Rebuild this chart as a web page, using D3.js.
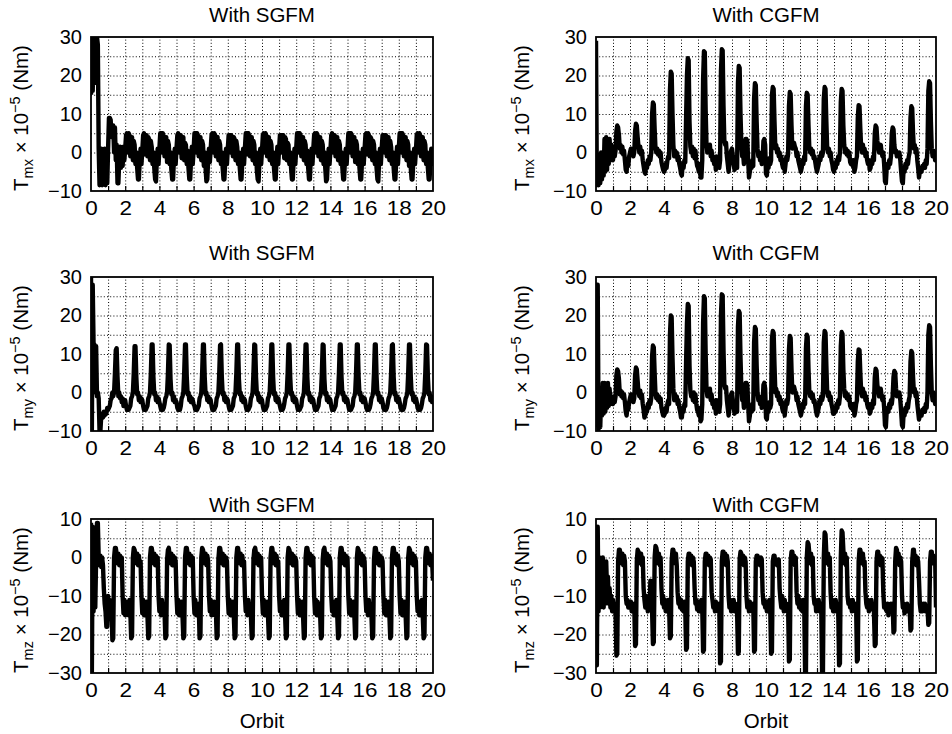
<!DOCTYPE html>
<html>
<head>
<meta charset="utf-8">
<script src="https://d3js.org/d3.v7.min.js"></script>
<style>
  body { margin: 0; background: #fff; }
  text { font-family: "Liberation Sans", Arial, Helvetica, sans-serif; fill: #000; }
</style>
</head>
<body>
<script>
// curves: one row per orbit, 20 samples 0.05 orbit apart,
// the last row holds the value at orbit 20
var step = 0.05;

var xTickValues = [0, 2, 4, 6, 8, 10, 12, 14, 16, 18, 20];
var yTicksXY = [-10, 0, 10, 20, 30];
var yTicksZ = [-30, -20, -10, 0, 10];
var titles = ["With SGFM", "With CGFM"];
var xLabel = "Orbit";

var tmxSgfm = [
  [15, 30, 16, 30, 18, 30, 20, 30, 28, 1, -8.5, -8, 1, -8.5, 0, -8, 1, -8.5, 0.5, -8],
  [1, 9, 9, 8.5, 4, 7, 7, 0, 6.5, -2, 2, -8, -8, -2, 1.5, -4, 1, -3.5, 1.5, -2],
  [1, 4.5, 5, 0, 5, 4.5, -1, 4, 4, -2, 3, 2, -3, 0, -4, -7, -7, -2, 1, -3],
  [0.5, 4.5, 5, -0.5, 4.5, 4.5, -1, 4, 3.5, -2, 3, 1.5, -3, 0, -4, -7, -7.5, -2, 1, -3],
  [1, 5, 5, 0, 5, 4, -1, 4, 4, -2.5, 3, 2, -3, 0, -4.5, -7, -7, -1.5, 1, -3],
  [1, 4.5, 5, 0, 4.5, 4.5, -1.5, 4, 4, -2, 2.5, 2, -3, 0.5, -4, -7, -7, -2, 1.5, -3],
  [0.5, 5, 5, 0, 5, 4.5, -1, 4, 4, -2, 3, 2, -3.5, 0, -4, -7.5, -7, -2, 1, -2.5],
  [1, 4.5, 5, 0, 5, 4.5, -1, 3.5, 4, -2, 3, 2, -3, 0, -4, -7, -7, -2, 1, -3],
  [1, 4.5, 4.5, 0, 4.5, 4, -1, 4, 3.5, -2, 3, 1.5, -3, 0, -4, -7, -7, -2, 1, -3],
  [1, 5, 5, -0.5, 5, 4.5, -1, 4, 4, -2, 3, 2, -3, 0, -4.5, -7, -7.5, -2, 1, -3],
  [0.5, 4.5, 5, 0, 5, 4.5, -1, 4, 4, -2, 3, 2, -3, 0, -4, -7, -7, -2, 1.5, -3],
  [1, 4.5, 4.5, 0, 4.5, 4.5, -1.5, 4, 3.5, -2, 2.5, 2, -3, 0, -4, -7, -7, -2, 1, -3],
  [1, 5, 5, 0, 5, 4.5, -1, 4, 4, -2, 3, 2, -3, 0.5, -4, -7, -7, -1.5, 1, -3],
  [1, 4.5, 5, 0, 5, 4.5, -1, 4, 4, -2, 3, 2, -3, 0, -4, -7.5, -7, -2, 1, -3],
  [0.5, 4.5, 5, 0, 4.5, 4.5, -1, 4, 4, -2, 3, 2, -3, 0, -4, -7, -7, -2, 1, -3],
  [1, 5, 5, 0, 5, 4.5, -1, 4, 4, -2.5, 3, 2, -3, 0, -4, -7, -7, -2, 1, -3],
  [1, 4.5, 5, -0.5, 5, 4.5, -1, 4, 3.5, -2, 3, 2, -3, 0, -4, -7, -7.5, -2, 1, -3],
  [1, 4.5, 4.5, 0, 4.5, 4.5, -1, 4, 4, -2, 3, 1.5, -3, 0, -4, -7, -7, -2, 1.5, -3],
  [1, 5, 5, 0, 5, 4.5, -1, 4, 4, -2, 3, 2, -3.5, 0, -4, -7, -7, -2, 1, -3],
  [0.5, 4.5, 5, 0, 5, 4.5, -1, 4, 4, -2, 3, 2, -3, 0, -4, -7, -7, -2, 1, -3],
  [-1]
];

var tmxCgfm = [
  [29, -8.5, -1, -8.5, -0.5, -8, 0, -7, -1, -6, 3.5, -5, 4, -4.5, 3.5, -3, 3.5, -2, 2, -1],
  [-2, 1, -1, 0.5, 5.5, 7, 6.5, 4.5, 1, 2, 0, 1.5, -0.5, 0.5, -2, -4.5, -5, -2, -3.5, -1],
  [0, 1, -0.5, 0.5, -1, 0, 5.5, 7.5, 7, 4, 1.5, 0, 1.5, -0.5, 0.5, -2, -3.5, -5, -5.5, -3],
  [-4, -2, -3, -1, -2, 0, 10, 13, 12.5, 6, 1, 0, 1, -0.5, 0.5, -1, 0, -2.5, -3.5, -4.5],
  [-5, -4.5, -3, -4, -2, -1, -1.5, 16, 21, 20.5, 10, 2, -1, 0.5, -1, 0, -2, -1, -3, -4],
  [-5.5, -6, -3, -4, -2, -2.5, 9, 20, 24.5, 24, 8, 1.5, 0, 1.5, -1, 1, -1.5, 0.5, -2, -3.5],
  [-4, -5, -3, -6.5, -6.5, -2, 19, 26.3, 26, 11, 2, 0, 1.5, 0, 2, -1, 0.5, -2, -1, -3],
  [-2, -4.5, -1, -3, -1.5, -4, -2, 21, 26.8, 26.5, 12, 3, 2, 2.5, -1, -3, -5, -3, -1, 0.5],
  [1, -1, -3, -4.5, -3, -2, -4, 18, 22.5, 22, 10, 2, -1, 0, -3, -1, 3.5, 3.5, 3, -2],
  [-6.5, -5, -3, -4, -2, -3.5, 14, 18, 17.5, 8, 1, -1, 0, -2, -1, -3, -2, 3, 3.5, 2],
  [-5.5, -6, -3, -4, -1.5, -3, -2, 15, 17, 16.5, 8, 1, 2, 0, 1, -1, 0, -2, -1, -3],
  [-4, -2, -5, -3, -1, -2, -0.5, 12, 15.7, 15.2, 7, 1, 1.5, 2.5, 1.5, 1, -1, 0, -2, -3],
  [-4, -5, -4, -2, -3, -1, -2, 12, 15.5, 15, 7, 1, 0, 1, -0.5, 0.5, -1.5, -1, -2.5, -4],
  [-5, -4, -3, -1, -2, 0, -1, 0, 14, 17, 16.5, 8, 1, 0, 1, -1, 0, -2, -3, -4.5],
  [-5, -3.5, -4, -2, -3, -1, -2, 0, 13, 16.5, 16, 7, 2, 0, 1, -0.5, 0.5, -1, 0, -2.5],
  [-3, -2, -3.5, -2, -5, -4, -2, -1, 9, 12.3, 12, 6, 1, 0, 2, 0, 1, -1, 0, -2],
  [-3, -2, -4.5, -4, -2, -3, -1, -2, 5, 7, 6.5, 3, 1.5, 0, 1, 2, 0, -1, 0, -3],
  [-7.5, -8, -4, -3, -4, -2, -3, -1, 5, 6.5, 6, 2, 0, 0.5, -1, 0, -0.5, 0, -2, -5],
  [-7.5, -8, -4, -5, -3, -4, -2, -3, -1, 0, 9, 12, 11.5, 5, 1, 2, 0, 1, -2, -4],
  [-6.5, -5, -4, -5, -3.5, -4, -3, -4, -2, -3, 1, 16, 18.5, 18, 8, 1, -1, 0.5, 0, -2],
  [0]
];

var tmySgfm = [
  [30, -10, 28, 12.5, 12.5, 0, 12, -1, 0, -1.5, -10, -10, -6, -5.5, -6.5, -5, -6, -5, -5.5, -4],
  [-4.5, -4, -3.5, -2, -1.5, 0, -1, 0, 5, 11, 11.5, 4, -1, 0, -1.5, -1, -2.5, -1.5, -3.5, -2],
  [-2, -3.5, -4.5, -4, -4.5, -4, -3.5, -1.5, -1, 0, 5, 12, 12, 4, -0.5, 0, -2, -1, -2.5, -1.5],
  [-2, -3.5, -4.5, -4, -4.5, -4, -3.5, -1.5, -1, 0, 5, 12.5, 12.5, 4, -0.5, 0, -2, -1, -2.5, -1.5],
  [-2.5, -3.5, -4.5, -4, -4.5, -4, -3, -1.5, -1, 0, 5, 12.5, 12.3, 3.5, -0.5, 0, -2, -1, -2.5, -2],
  [-2.5, -4, -4.5, -4, -4.5, -3.5, -1.5, -1, 0, 5, 12.5, 12.5, 4, -0.5, 0, -2, -1, -2.5, -1.5, -2],
  [-3, -3.5, -4.5, -4, -4.5, -4, -3.5, -1.5, -1, 0, 5, 12.5, 12.5, 4, -0.5, 0, -2, -1, -2.5, -1.5],
  [-2, -3.5, -4.5, -4, -4.5, -4, -3.5, -1.5, -1, 0, 5, 12.3, 12.5, 4, -0.5, 0, -2, -1, -2.5, -1.5],
  [-2, -3.5, -4.5, -4, -4.5, -4, -3.5, -1.5, -1, 0, 5, 12.5, 12.5, 3.5, -0.5, 0, -2, -1, -2.5, -1.5],
  [-2, -3.5, -4.5, -4, -4.5, -4, -3.5, -1.5, -1, 0, 5, 12.5, 12.3, 4, -0.5, 0, -2, -1, -2.5, -1.5],
  [-2, -3.5, -4.5, -4, -4.5, -4, -3.5, -1.5, -1, 0, 5, 12.5, 12.5, 4, -0.5, 0, -2, -1, -2.5, -1.5],
  [-2.5, -3.5, -4.5, -4, -4.5, -4, -3, -1.5, -1, 0, 5, 12.5, 12.5, 4, -0.5, 0, -2, -1, -2.5, -1.5],
  [-2, -3.5, -4.5, -4, -4.5, -4, -3.5, -1.5, -1, 0, 5, 12.5, 12.5, 4, -0.5, 0, -2, -1, -2.5, -1.5],
  [-2, -3.5, -4.5, -4, -4.5, -4, -3.5, -1.5, -1, 0, 5, 12.5, 12.3, 3.5, -0.5, 0, -2, -1, -2.5, -1.5],
  [-2, -3.5, -4.5, -4, -4.5, -4, -3.5, -1.5, -1, 0, 5, 12.5, 12.5, 4, -0.5, 0, -2, -1, -2.5, -1.5],
  [-2, -3.5, -4.5, -4, -4.5, -4, -3.5, -1.5, -1, 0, 5, 12.5, 12.5, 4, -0.5, 0, -2, -1, -2.5, -1.5],
  [-1.5, -2.5, -4, -4.5, -4, -4.5, -4, -3, -1.5, -1, 0, 5, 12.5, 12.5, 4, -0.5, 0, -2, -1, -2.5],
  [-1.5, -2.5, -4, -4.5, -4, -4.5, -4, -3, -1.5, -1, 0, 5, 12.3, 12.5, 4, -0.5, 0, -2, -1, -2.5],
  [-1.5, -2.5, -4, -4.5, -4, -4.5, -4, -3, -1.5, -1, 0, 5, 12.5, 12.5, 4, -0.5, 0, -2, -1, -2.5],
  [-1.5, -2.5, -4, -4.5, -4, -4.5, -4, -3, -1.5, -1, 0, 5, 12.5, 12.3, 4, -0.5, 0, -2, -1, -2.5],
  [-2.5]
];

var tmyCgfm = [
  [-9, 28, 28, -9.5, -2, -9, -1, -6, 2.5, -5.5, 2.5, -5, 2, -4, 2.5, -3.5, 1, -3, -1, -2.5],
  [-3, -1, -2.5, -1, 4.5, 6, 5.5, 3.5, -0.5, 0.5, -1, 0, -1.5, -0.5, -2.5, -5, -6, -3.5, -4.5, -2.5],
  [-1.5, -0.5, -2, -1, -2.5, -1.5, 4.5, 6.5, 6, 3, 0, -1, 0.5, -1.5, -0.5, -3, -4.5, -6.5, -6, -4],
  [-5, -3, -4, -2, -3, -1.5, 9.5, 12.2, 11.7, 5, -0.5, -1.5, -0.5, -2, -1, -2.5, -1.5, -4, -5, -6],
  [-6, -5.5, -4, -5, -3, -2, -3, 15, 20, 19.5, 9, 1, -2, -0.5, -2, -1, -3, -2, -4, -5],
  [-6.5, -6.5, -4, -5, -3, -3.5, 8, 18, 23, 22.5, 7, 0.5, -1, 0, -2, 0, -2.5, -0.5, -3, -4.5],
  [-5, -6, -4, -7.5, -7, -3, 18, 25, 24.5, 10, 1, -1, 0.5, -1, 1, -2, -0.5, -3, -2, -4],
  [-3, -5.5, -2, -4, -2.5, -5, -3, 20, 25.5, 25.2, 11, 2, 1, 1.5, -2, -4, -6, -4, -2, -0.5],
  [0, -2, -4, -5.5, -4, -3, -5, 17, 21.2, 20.7, 9, 1, -2, -1, -4, -2, 2.5, 2.5, 2, -3],
  [-7.5, -6, -4, -5, -3, -4.5, 13, 17, 16.5, 7, 0, -2, -1, -3, -2, -4, -3, 2, 2.5, 1],
  [-6.5, -7, -4, -5, -2.5, -4, -3, 14, 16, 15.5, 7, 0, 1, -1, 0, -2, -1, -3, -2, -4],
  [-5, -3, -6, -4, -2, -3, -1.5, 11, 14.7, 14.2, 6, 0, 0.5, 1.5, 0.5, 0, -2, -1, -3, -4],
  [-5, -6, -5, -3, -4, -2, -3, 11.5, 15, 14.5, 6, 0, -1, 0, -1.5, -0.5, -2.5, -2, -3.5, -5],
  [-6, -5, -4, -2, -3, -1, -2, -1, 13, 16, 15.5, 7, 0, -1, 0, -2, -1, -3, -4, -5.5],
  [-5.5, -4.5, -5, -3, -4, -2, -3, -1, 12, 15.7, 15.2, 6, 1, -1, 0, -1.5, -0.5, -2, -1, -3.5],
  [-4, -3, -4.5, -3, -6, -5, -3, -2, 8, 11.2, 11, 5, 0, -1, 1, -1, 0, -2, -1, -3],
  [-4, -3, -5.5, -5, -3, -4, -2, -3, 4, 6.2, 5.7, 2, 0.5, -1, 0, 1, -1, -2, -1, -4],
  [-8.5, -9, -5, -4, -5, -3, -4, -2, -3, -1, 4, 5.6, 5.2, 1, -1, 0, -0.5, 0, -2, -5],
  [-8.5, -9, -5, -6, -4, -5, -3, -4, -2, -1, 8, 10.8, 10.3, 4, 0, 1, -1, 0, -3, -5],
  [-7, -6, -5, -6, -4.5, -5, -4, -5, -3, -4, 0, 15, 17.5, 17, 7, 0, -2, 0, -1, -3],
  [-1]
];

var tmzSgfm = [
  [9, -30, 8, -14, -1, -13, 0, 9, 9, 0, -2, 0.5, -2.5, 0, -2, -8, -12, -14, -18, -18],
  [-10, -13, -11, -16, -13, -21.5, -21, 0, 2.5, 2.5, 1, -1.5, 1, -2, 0.5, -2, 0, -10, -14.5, -11],
  [-15, -11.5, -14, -12, -15, -11, -14, -21, -20.5, 0, 2.5, 2, 0.5, -1.5, 1, -2, 0.5, -2, -1, -10],
  [-14.5, -11, -15, -12, -14, -11.5, -15, -21, -20.5, 0, 2.5, 2.5, 1, -1.5, 1, -2, 0.5, -2, 0, -10],
  [-14, -11.5, -15, -11, -14.5, -12, -14, -21, -20.5, -0.5, 2, 2.5, 0.5, -1.5, 1, -2, 0.5, -2, 0, -1],
  [-10, -14.5, -11, -15, -12, -14, -11.5, -15, -21, -20.5, 0, 2.5, 2.5, 1, -1.5, 1, -2, 0.5, -2, 0],
  [-10, -14.5, -11, -15, -12, -14, -12, -21, -20.5, 0, 2.5, 2, 0.5, -1.5, 1, -2, 0.5, -1, -10, -14],
  [-11, -15, -12, -14.5, -11.5, -15, -13, -21, -20.5, -0.5, 2.5, 2.5, 1, -1.5, 1, -2, 0.5, -2, 0, -1],
  [-10, -14.5, -11, -15, -12, -14, -11.5, -15, -21, -20.5, 0, 2.5, 2.5, 0.5, -1.5, 1, -2, 0.5, -2, -1],
  [-10, -14, -11.5, -15, -11, -14.5, -12, -15, -21, -20.5, -0.5, 2, 2.5, 1, -1.5, 1, -2, 0.5, -2, 0],
  [-10, -14.5, -11, -15, -12, -14, -11.5, -15, -21, -20.5, 0, 2.5, 2.5, 0.5, -1.5, 1, -2, 0.5, -2, -1],
  [-10, -14, -11.5, -15, -12, -14.5, -11, -15, -21, -20.5, 0, 2.5, 2, 1, -1.5, 1, -2, 0.5, -2, 0],
  [-1, -10, -14.5, -11, -15, -12, -14, -11.5, -15, -21, -20.5, 0, 2.5, 2.5, 1, -1.5, 1, -2, 0.5, -1],
  [0, -10, -14.5, -11, -15, -11.5, -14, -12, -15, -21, -20.5, -0.5, 2, 2.5, 0.5, -1.5, 1, -2, 0.5, 0],
  [-1, -10, -14, -11.5, -15, -12, -14.5, -11, -15, -21, -20.5, 0, 2.5, 2.5, 1, -1.5, 1, -2, 0.5, -1],
  [0, -10, -14.5, -11, -15, -12, -14, -11.5, -15, -21, -20.5, 0, 2.5, 2, 0.5, -1.5, 1, -2, 0.5, 0],
  [-1, -10, -14, -11.5, -15, -11, -14.5, -12, -15, -21, -20.5, -0.5, 2.5, 2.5, 1, -1.5, 1, -2, 0.5, -1],
  [0, -1, -10, -14.5, -11, -15, -12, -14, -11.5, -15, -21, -20.5, 0, 2.5, 2.5, 1, -1.5, 1, -2, 0.5],
  [-1, -10, -14.5, -11, -15, -12, -14, -11.5, -15, -21, -20.5, 0, 2.5, 2, 0.5, -1.5, 1, -2, 0.5, 0],
  [-1, -10, -14, -11.5, -15, -12, -14.5, -11, -15, -21, -20.5, 0, 2.5, 2.5, 1, -1.5, 1, -2, 0.5, -1],
  [-6]
];

var tmzCgfm = [
  [8, -28, 8, -14, 0, -13, -1, -10, 0, -13, -3, -12, -1, -9, -5, -12, -8, -13, -10, -14],
  [-11, -14, -12, -14, -25.5, -25, -1, 2, 2, 0.5, -1.5, 1, -2, 0.5, -1, -10, -12, -11, -13, -12],
  [-13, -11.5, -14, -12, -13, -12, -23, -22.5, -1, 2, 1.5, 0, -1.5, 1, -2, 0, -8, -11, -13, -10],
  [-12, -14, -11, -13, -6, -12, -14, -22.5, -22, 0, 3, 2.5, 1, -1.5, 1, -2, 0, -8, -12, -10],
  [-13, -11, -14, -12, -13.5, -11, -13, -21, -20.5, -1, 2, 2, 0.5, -1.5, 1, -2, -9, -12, -10.5, -13],
  [-11, -13.5, -12, -14, -11.5, -13, -24, -23.5, -1, 1, 1, -1.5, 0.5, -2, 0, -1, -8, -12, -11, -13.5],
  [-11.5, -14, -12, -13, -11, -13, -24.5, -24, -1, 1, 1, -1.5, 0.5, -2, 0, -0.5, -9, -11, -13, -12],
  [-14, -11.5, -13, -12, -14, -12, -27.5, -27, -1, 1.5, 1.5, -1.5, 1, -2, 0.5, -1, -10, -13, -11, -14],
  [-12, -13.5, -11, -14, -12, -13, -14, -25, -24.5, -0.5, 1.5, 1, -1.5, 0.5, -2, 0, -1, -10, -13, -12],
  [-14, -11.5, -13, -12, -14, -12, -24.5, -24, -1, 0.5, 0.5, -1.5, 0, -2, 0, -0.5, -9, -12, -11, -13],
  [-11.5, -14, -12, -13, -11, -13.5, -25, -24.5, -1, 0.5, 0.5, -1.5, -0.5, -2, -1, -0.5, -8, -11, -13, -10],
  [-12, -14, -11, -13, -12, -14, -12.5, -27, -26.5, -1, 1.5, 1.5, -1.5, 0.5, -2, 0, -9, -12, -10, -13],
  [-11, -13.5, -12, -14, -11, -13, -30, -30, 0, 4, 3.5, 1, -1.5, 1, -2, 0, -10, -12, -11, -14],
  [-12, -13, -11, -14, -12, -13, -30, -30, 0, 6.5, 6, 1, -1.5, 1, -2, 0, -9, -13, -11, -14],
  [-12, -14, -11, -13.5, -12, -14, -28, -27.5, 0, 7, 6.5, 2, -1.5, 1, -2, 0, -10, -12, -11, -13],
  [-12, -14, -11, -13, -12, -14, -12, -27, -26.5, -1, 2, 2, 0.5, -1.5, 1, -2, -1, -9, -12, -13],
  [-11, -14, -12, -13, -11, -13.5, -12, -14, -23, -22.5, -1, 1.5, 1.5, -1.5, 0.5, -2, 0, -0.5, -9, -13],
  [-12, -13.5, -14, -12, -15, -13, -14, -12, -13.5, -12, -19.5, -19, -1, 2.5, 2, -1.5, 1, -2, 0, -1],
  [-10, -13, -12, -14.5, -13, -14, -12, -14, -12.5, -13, -19, -18.5, -1, 2, 2, -1.5, 0.5, -2, 0, -1],
  [-6, -12, -14, -12.5, -14, -12, -13.5, -12, -14, -12.5, -13, -17.5, -17, -1, 1.5, 1.5, -1.5, 0.5, -1, 0],
  [-13]
];

var panels = [
  { row: 0, col: 0, sub: "mx", values: tmxSgfm, yTicks: yTicksXY },
  { row: 0, col: 1, sub: "mx", values: tmxCgfm, yTicks: yTicksXY },
  { row: 1, col: 0, sub: "my", values: tmySgfm, yTicks: yTicksXY },
  { row: 1, col: 1, sub: "my", values: tmyCgfm, yTicks: yTicksXY },
  { row: 2, col: 0, sub: "mz", values: tmzSgfm, yTicks: yTicksZ },
  { row: 2, col: 1, sub: "mz", values: tmzCgfm, yTicks: yTicksZ }
];

// layout
var width = 952, height = 734;
var colX = [[91, 433], [596, 936]];
var rowTop = [37, 277, 519], plotH = 154;
var titleY = [22, 260, 512];
var yLabelX = [28, 529];
var fontFamily = '"Liberation Sans", Arial, Helvetica, sans-serif';

var svg = d3.select("body").append("svg")
  .attr("width", width)
  .attr("height", height)
  .style("display", "block");

var line = d3.line();

panels.forEach(function(p, i) {
  var left = colX[p.col][0], right = colX[p.col][1];
  var top = rowTop[p.row], bottom = top + plotH;
  var x = d3.scaleLinear().domain([0, 20]).range([left, right]);
  var y = d3.scaleLinear().domain(d3.extent(p.yTicks)).range([bottom, top]);
  var g = svg.append("g");

  // dotted grid
  g.append("g")
    .attr("transform", "translate(0," + bottom + ")")
    .call(d3.axisBottom(x).tickValues(d3.range(1, 20)).tickSize(-plotH).tickFormat(""))
    .call(function(a) { a.select(".domain").remove(); })
    .selectAll("line")
    .attr("stroke", "#000").attr("stroke-width", 1).attr("stroke-dasharray", "1,2.2");
  g.append("g")
    .attr("transform", "translate(" + left + ",0)")
    .call(d3.axisLeft(y).tickValues(d3.range(y.domain()[0] + 5, y.domain()[1], 5)).tickSize(-(right - left)).tickFormat(""))
    .call(function(a) { a.select(".domain").remove(); })
    .selectAll("line")
    .attr("stroke", "#000").attr("stroke-width", 1).attr("stroke-dasharray", "1,2.2");

  // small inner ticks along the bottom
  g.append("g")
    .attr("transform", "translate(0," + bottom + ")")
    .call(d3.axisBottom(x).tickValues(d3.range(1, 20)).tickSize(-5).tickFormat(""))
    .call(function(a) { a.select(".domain").remove(); })
    .selectAll("line").attr("stroke", "#000").attr("stroke-width", 1.2);

  // curve
  g.append("clipPath").attr("id", "clip" + i)
    .append("rect").attr("x", left).attr("y", top).attr("width", right - left).attr("height", plotH);

  var pts = [];
  p.values.forEach(function(rowVals, r) {
    rowVals.forEach(function(v, j) { pts.push([x(r + j * step), y(v)]); });
  });

  g.append("path")
    .attr("clip-path", "url(#clip" + i + ")")
    .attr("d", line(pts))
    .attr("fill", "none")
    .attr("stroke", "#000")
    .attr("stroke-width", 4.4)
    .attr("stroke-linejoin", "round");

  // frame
  g.append("rect")
    .attr("x", left).attr("y", top)
    .attr("width", right - left).attr("height", plotH)
    .attr("fill", "none").attr("stroke", "#000").attr("stroke-width", 1.8);

  // tick labels
  g.append("g")
    .attr("transform", "translate(0," + bottom + ")")
    .call(d3.axisBottom(x).tickValues(xTickValues).tickSize(0).tickPadding(10))
    .call(function(a) { a.select(".domain").remove(); })
    .attr("font-size", 20).attr("font-family", fontFamily)
    .selectAll("text")
    .attr("textLength", function(d) { return String(d).length > 1 ? 25 : 12.5; })
    .attr("lengthAdjust", "spacingAndGlyphs");
  g.append("g")
    .attr("transform", "translate(" + left + ",0)")
    .call(d3.axisLeft(y).tickValues(p.yTicks).tickSize(0).tickPadding(9))
    .call(function(a) { a.select(".domain").remove(); })
    .attr("font-size", 20).attr("font-family", fontFamily);

  // title
  g.append("text")
    .attr("x", (left + right) / 2).attr("y", titleY[p.row])
    .attr("text-anchor", "middle").attr("font-size", 20.5)
    .text(titles[p.col]);

  // y label: T_sub x 10^-5 (Nm)
  var lab = g.append("text")
    .attr("transform", "translate(" + yLabelX[p.col] + "," + (top + plotH / 2 + 4) + ") rotate(-90)")
    .attr("text-anchor", "middle").attr("font-size", 20.5);
  lab.append("tspan").text("T");
  lab.append("tspan").attr("dy", 5).attr("font-size", 14.5).text(p.sub);
  lab.append("tspan").attr("dy", -5).text(" \u00d7 10");
  lab.append("tspan").attr("dy", -8).attr("font-size", 14.5).text("\u22125");
  lab.append("tspan").attr("dy", 8).text(" (Nm)");

  if (p.row === 2) {
    g.append("text")
      .attr("x", (left + right) / 2).attr("y", 728)
      .attr("text-anchor", "middle").attr("font-size", 20.5)
      .text(xLabel);
  }
});
</script>
</body>
</html>
